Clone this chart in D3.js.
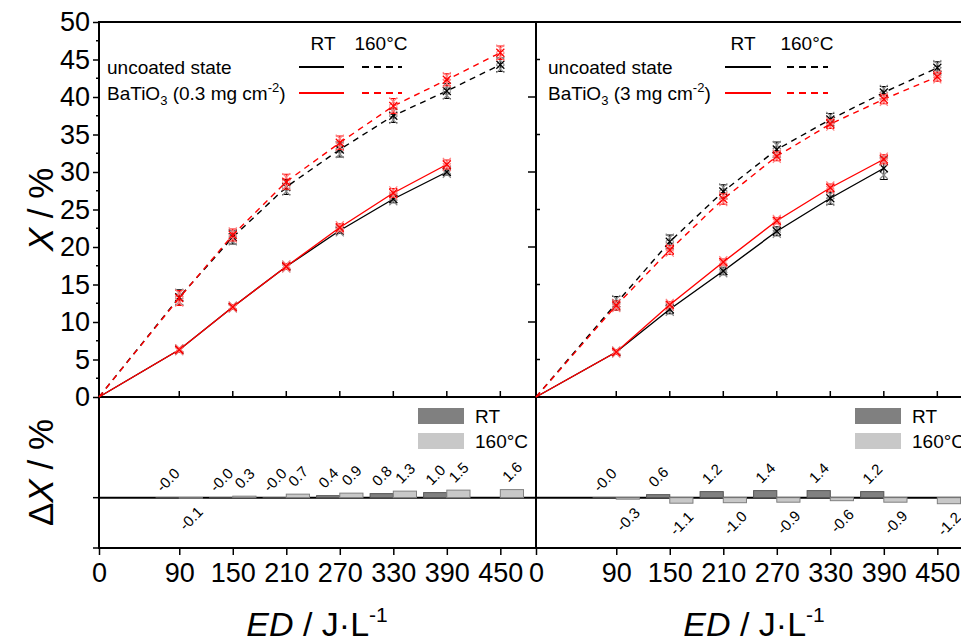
<!DOCTYPE html>
<html>
<head>
<meta charset="utf-8">
<script src="https://cdn.jsdelivr.net/npm/d3@7"></script>
<style>
  body { margin: 0; background: #fff; }
  svg { display: block; font-family: "Liberation Sans", Arial, sans-serif; }
</style>
</head>
<body>
<div id="chart"></div>
<script>
// energy density (J/L)
var edTicks = [0, 90, 150, 210, 270, 330, 390, 450];
var edRT = [0, 90, 150, 210, 270, 330, 390];
var edHT = [0, 90, 150, 210, 270, 330, 390, 450];

// conversion X (%), panel BaTiO3 0.3 mg cm-2
var unc03RT    = [0, 6.3, 12.0, 17.4, 22.2, 26.4, 30.0];
var unc03RTerr = [0, 0.3, 0.3, 0.4, 0.4, 0.5, 0.4];
var bto03RT    = [0, 6.3, 12.0, 17.4, 22.6, 27.2, 31.0];
var bto03RTerr = [0, 0.3, 0.3, 0.4, 0.5, 0.6, 0.6];
var unc03HT    = [0, 13.3, 21.3, 28.0, 33.0, 37.5, 40.8, 44.3];
var unc03HTerr = [0, 1.0, 0.9, 1.0, 1.0, 0.9, 1.0, 0.9];
var bto03HT    = [0, 13.2, 21.6, 28.7, 33.9, 38.8, 42.3, 45.9];
var bto03HTerr = [0, 1.0, 0.8, 1.0, 0.9, 1.0, 0.8, 0.9];

// conversion X (%), panel BaTiO3 3 mg cm-2
var unc3RT    = [0, 6.0, 11.7, 16.8, 22.1, 26.5, 30.5];
var unc3RTerr = [0, 0.3, 0.6, 0.5, 0.6, 0.8, 1.5];
var bto3RT    = [0, 6.0, 12.3, 18.0, 23.5, 27.9, 31.7];
var bto3RTerr = [0, 0.3, 0.4, 0.4, 0.4, 0.5, 0.6];
var unc3HT    = [0, 12.5, 20.7, 27.4, 33.0, 37.0, 40.6, 43.9];
var unc3HTerr = [0, 0.9, 0.9, 0.9, 1.0, 0.8, 0.8, 0.8];
var bto3HT    = [0, 12.2, 19.6, 26.4, 32.1, 36.4, 39.7, 42.7];
var bto3HTerr = [0, 0.6, 0.6, 0.7, 0.6, 0.6, 0.6, 0.6];

// delta X (%) coated - uncoated (bar labels)
var dEdRT = [90, 150, 210, 270, 330, 390];
var dEdHT = [90, 150, 210, 270, 330, 390, 450];
var dl03RT = [-0.02, -0.02, -0.02, 0.4, 0.8, 1.0];
var dl03HT = [-0.1, 0.3, 0.7, 0.9, 1.3, 1.5, 1.6];
var dl3RT  = [-0.02, 0.6, 1.2, 1.4, 1.4, 1.2];
var dl3HT  = [-0.3, -1.1, -1.0, -0.9, -0.6, -0.9, -1.2];

var svgWidth = 961, svgHeight = 644;
var panelW = 437;
var barW = 26; // bar width in J/L

var svg = d3.select("#chart").append("svg")
  .attr("width", svgWidth)
  .attr("height", svgHeight);

var yTop = d3.scaleLinear().domain([0, 50]).range([397, 22]);
var yBot = d3.scaleLinear().domain([-10, 20]).range([548, 397]);

var panels = [
  { x0: 99, coat: ["BaTiO", "3", " (0.3 mg cm", "-2", ")"],
    uRT: unc03RT, uRTe: unc03RTerr, bRT: bto03RT, bRTe: bto03RTerr,
    uHT: unc03HT, uHTe: unc03HTerr, bHT: bto03HT, bHTe: bto03HTerr,
    dRT: dl03RT, dHT: dl03HT,
    leg: { text: 8, rt: 224, ht: 282, solid: [200, 245], dash: [263, 303] } },
  { x0: 536, coat: ["BaTiO", "3", " (3 mg cm", "-2", ")"],
    uRT: unc3RT, uRTe: unc3RTerr, bRT: bto3RT, bRTe: bto3RTerr,
    uHT: unc3HT, uHTe: unc3HTerr, bHT: bto3HT, bHTe: bto3HTerr,
    dRT: dl3RT, dHT: dl3HT,
    leg: { text: 12, rt: 207, ht: 271, solid: [189, 235], dash: [251, 292] } }
];

var fmt = function(v) { return (v < 0 ? "-" : "") + Math.abs(v).toFixed(1); };

panels.forEach(function(p, pi) {
  var x = d3.scaleLinear().domain([0, 490]).range([p.x0, p.x0 + panelW]);
  var g = svg.append("g");

  // frame lines
  var frame = g.append("g").attr("stroke", "#000").attr("stroke-width", 2);
  frame.append("line").attr("x1", p.x0 - 1).attr("x2", p.x0 + panelW + 1).attr("y1", 22).attr("y2", 22);
  frame.append("line").attr("x1", p.x0).attr("x2", p.x0).attr("y1", 22).attr("y2", 549);
  frame.append("line").attr("x1", p.x0).attr("x2", p.x0 + panelW).attr("y1", 397).attr("y2", 397);
  frame.append("line").attr("x1", p.x0).attr("x2", p.x0 + panelW).attr("y1", 548).attr("y2", 548);
  frame.append("line").attr("x1", p.x0).attr("x2", p.x0 + panelW).attr("y1", yBot(0)).attr("y2", yBot(0));

  // x ticks on top panel bottom edge (inward)
  g.append("g").selectAll("line").data(edTicks.slice(1)).enter().append("line")
    .attr("x1", d => x(d)).attr("x2", d => x(d))
    .attr("y1", 397).attr("y2", 391)
    .attr("stroke", "#000").attr("stroke-width", 1.5);

  // bottom x axis
  var xAxis = g.append("g")
    .attr("transform", "translate(0,548)")
    .call(d3.axisBottom(x).tickValues(edTicks).tickSize(7).tickPadding(8).tickSizeOuter(0));
  xAxis.select(".domain").remove();
  xAxis.selectAll("line").attr("stroke-width", 1.5);
  xAxis.selectAll("text")
    .style("font-size", "27px")
    .style("font-family", "'Liberation Sans', Arial, sans-serif")
    .attr("fill", "#000");

  // y ticks
  if (pi === 0) {
    var yAxis = g.append("g")
      .attr("transform", "translate(" + p.x0 + ",0)")
      .call(d3.axisLeft(yTop).tickValues(d3.range(0, 51, 5)).tickSize(6).tickPadding(3).tickSizeOuter(0));
    yAxis.select(".domain").remove();
    yAxis.selectAll("line").attr("stroke-width", 1.5);
    yAxis.selectAll("text")
      .style("font-size", "27px")
      .style("font-family", "'Liberation Sans', Arial, sans-serif")
      .attr("fill", "#000");
    g.append("g").selectAll("line").data(d3.range(2.5, 50, 5)).enter().append("line")
      .attr("x1", p.x0 - 3).attr("x2", p.x0)
      .attr("y1", d => yTop(d)).attr("y2", d => yTop(d))
      .attr("stroke", "#000").attr("stroke-width", 1.5);
    g.append("g").selectAll("line").data([0, -10]).enter().append("line")
      .attr("x1", p.x0 - 6).attr("x2", p.x0)
      .attr("y1", d => yBot(d)).attr("y2", d => yBot(d))
      .attr("stroke", "#000").attr("stroke-width", 1.5);
  } else {
    g.append("g").selectAll("line").data([10, 20, 30, 40]).enter().append("line")
      .attr("x1", p.x0 - 8).attr("x2", p.x0)
      .attr("y1", d => yTop(d)).attr("y2", d => yTop(d))
      .attr("stroke", "#000").attr("stroke-width", 1.5);
    g.append("g").selectAll("line").data([5, 15, 25, 35, 45]).enter().append("line")
      .attr("x1", p.x0).attr("x2", p.x0 + 4)
      .attr("y1", d => yTop(d)).attr("y2", d => yTop(d))
      .attr("stroke", "#000").attr("stroke-width", 1.5);
  }

  // lines
  var line = d3.line().x(d => x(d[0])).y(d => yTop(d[1]));
  var series = [
    { ed: edHT, v: p.uHT, e: p.uHTe, c: "#000", lc: "#888", dash: "6,5" },
    { ed: edRT, v: p.uRT, e: p.uRTe, c: "#000", lc: "#888", dash: null },
    { ed: edHT, v: p.bHT, e: p.bHTe, c: "#f00", lc: "#ff8080", dash: "6,5" },
    { ed: edRT, v: p.bRT, e: p.bRTe, c: "#f00", lc: "#ff8080", dash: null }
  ];
  series.forEach(function(s) {
    var pts = s.ed.map((d, i) => [d, s.v[i], s.e[i]]);
    g.append("path")
      .datum(pts)
      .attr("d", line)
      .attr("fill", "none")
      .attr("stroke", s.c)
      .attr("stroke-width", 1.4)
      .attr("stroke-dasharray", s.dash);

    var pg = g.append("g").selectAll("g").data(pts.slice(1)).enter().append("g");
    // error bars
    pg.append("line")
      .attr("x1", d => x(d[0])).attr("x2", d => x(d[0]))
      .attr("y1", d => yTop(d[1] - d[2])).attr("y2", d => yTop(d[1] + d[2]))
      .attr("stroke", s.c).attr("stroke-width", 1);
    [-1, 1].forEach(function(k) {
      pg.append("line")
        .attr("x1", d => x(d[0]) - 4).attr("x2", d => x(d[0]) + 4)
        .attr("y1", d => yTop(d[1] + k * d[2])).attr("y2", d => yTop(d[1] + k * d[2]))
        .attr("stroke", s.c).attr("stroke-width", 1);
    });
    // replicate markers
    [[0.6, s.lc], [-0.6, s.lc], [0, s.c]].forEach(function(m) {
      pg.append("path")
        .attr("transform", d => "translate(" + x(d[0]) + "," + yTop(d[1] + m[0] * d[2]) + ")")
        .attr("d", "M-4,-4L4,4M-4,4L4,-4")
        .attr("stroke", m[1]).attr("stroke-width", 1.2).attr("fill", "none");
    });
  });

  // top legend
  var lg = g.append("g").style("font-size", "19px").attr("fill", "#000");
  lg.append("text").attr("x", p.x0 + p.leg.rt).attr("y", 50).attr("text-anchor", "middle").text("RT");
  lg.append("text").attr("x", p.x0 + p.leg.ht).attr("y", 50).attr("text-anchor", "middle").text("160°C");
  lg.append("text").attr("x", p.x0 + p.leg.text).attr("y", 74).text("uncoated state");
  var ct = lg.append("text").attr("x", p.x0 + p.leg.text).attr("y", 100);
  ct.append("tspan").text(p.coat[0]);
  ct.append("tspan").attr("dy", 5).style("font-size", "13px").text(p.coat[1]);
  ct.append("tspan").attr("dy", -5).text(p.coat[2]);
  ct.append("tspan").attr("dy", -8).style("font-size", "13px").text(p.coat[3]);
  ct.append("tspan").attr("dy", 8).text(p.coat[4]);
  [[67, "#000"], [93, "#f00"]].forEach(function(r) {
    lg.append("line").attr("x1", p.x0 + p.leg.solid[0]).attr("x2", p.x0 + p.leg.solid[1])
      .attr("y1", r[0]).attr("y2", r[0]).attr("stroke", r[1]).attr("stroke-width", 2);
    lg.append("line").attr("x1", p.x0 + p.leg.dash[0]).attr("x2", p.x0 + p.leg.dash[1])
      .attr("y1", r[0]).attr("y2", r[0]).attr("stroke", r[1]).attr("stroke-width", 2)
      .attr("stroke-dasharray", "7,5");
  });

  // delta bars
  var bars = [
    { ed: dEdRT, v: p.dRT, off: -barW, fill: "#808080", stroke: "#555" },
    { ed: dEdHT, v: p.dHT, off: 0, fill: "#c8c8c8", stroke: "#808080" }
  ];
  bars.forEach(function(b) {
    var pts = b.ed.map((d, i) => [d, b.v[i]]);
    g.append("g").selectAll("rect").data(pts).enter().append("rect")
      .attr("x", d => x(d[0] + b.off))
      .attr("width", x(barW) - x(0))
      .attr("y", d => yBot(Math.max(0, d[1])))
      .attr("height", d => Math.abs(yBot(d[1]) - yBot(0)))
      .attr("fill", b.fill).attr("stroke", b.stroke).attr("stroke-width", 1);
    g.append("g").selectAll("text").data(pts).enter().append("text")
      .attr("transform", function(d) {
        var cx = x(d[0] + b.off + barW / 2);
        var cy = d[1] > -0.05 ? yBot(Math.max(0, d[1])) - 18 : yBot(d[1]) + 20;
        return "translate(" + cx + "," + cy + ") rotate(-45)";
      })
      .attr("text-anchor", "middle")
      .attr("dominant-baseline", "central")
      .style("font-size", "15px")
      .text(d => fmt(d[1]));
  });

  // bottom legend
  var bl = g.append("g").style("font-size", "19px");
  bl.append("rect").attr("x", p.x0 + 319).attr("y", 408).attr("width", 46).attr("height", 16).attr("fill", "#808080");
  bl.append("rect").attr("x", p.x0 + 319).attr("y", 433).attr("width", 46).attr("height", 16).attr("fill", "#c8c8c8");
  bl.append("text").attr("x", p.x0 + 376).attr("y", 423).text("RT");
  bl.append("text").attr("x", p.x0 + 376).attr("y", 448).text("160°C");

  // x axis title
  var xt = g.append("text")
    .attr("x", p.x0 + 218).attr("y", 636)
    .attr("text-anchor", "middle")
    .style("font-size", "34px");
  xt.append("tspan").style("font-style", "italic").text("ED");
  xt.append("tspan").text(" / J·L");
  xt.append("tspan").attr("dy", -14).style("font-size", "21px").text("-1");
});

// y axis titles
var yt1 = svg.append("text")
  .attr("transform", "translate(53," + ((22 + 397) / 2) + ") rotate(-90)")
  .attr("text-anchor", "middle")
  .style("font-size", "35px");
yt1.append("tspan").style("font-style", "italic").text("X");
yt1.append("tspan").text(" / %");

var yt2 = svg.append("text")
  .attr("transform", "translate(53," + ((397 + 548) / 2) + ") rotate(-90)")
  .attr("text-anchor", "middle")
  .style("font-size", "35px");
yt2.append("tspan").text("Δ");
yt2.append("tspan").style("font-style", "italic").text("X");
yt2.append("tspan").text(" / %");
</script>
</body>
</html>
